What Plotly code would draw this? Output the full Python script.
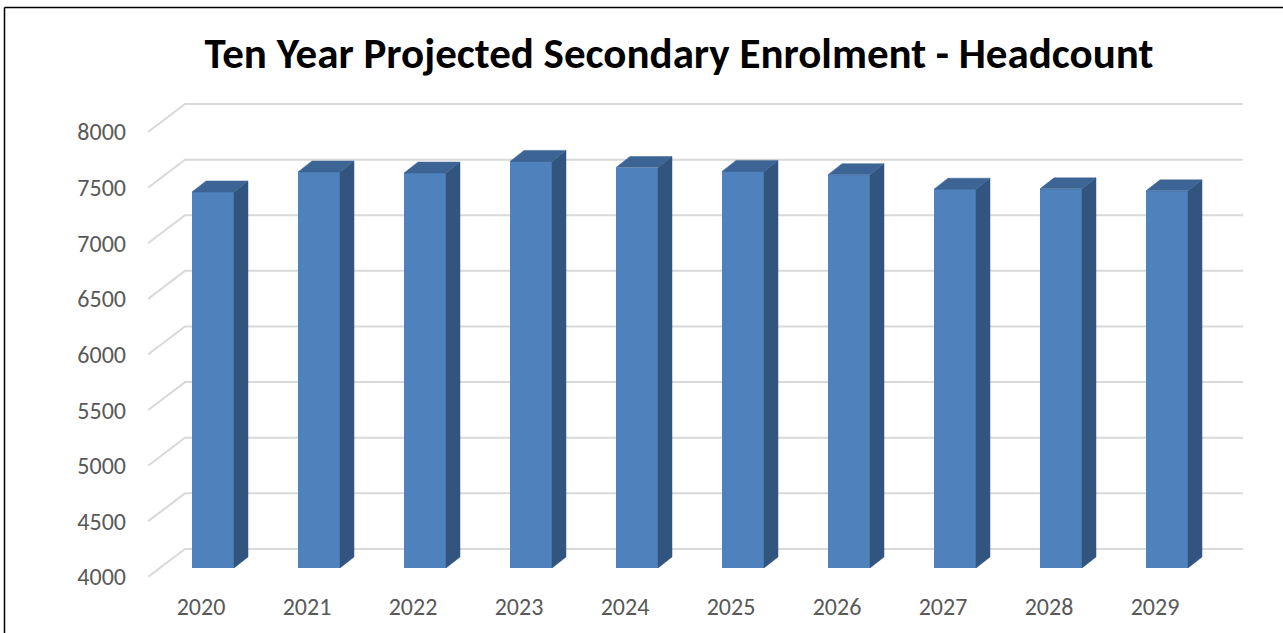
import plotly.graph_objects as go

# ---------------- data ----------------
years = ["2020", "2021", "2022", "2023", "2024", "2025", "2026", "2027", "2028", "2029"]
headcount = [7380, 7560, 7550, 7655, 7600, 7565, 7535, 7405, 7408, 7390]
y_ticks = [4000, 4500, 5000, 5500, 6000, 6500, 7000, 7500, 8000]
title_text = "Ten Year Projected Secondary Enrolment - Headcount"

# ---------------- layout constants (pixels) ----------------
W, H = 1283, 633
L, R, T, B = 148, 1243, 90, 577          # plot area
PX_PER_CAT = 106.0                        # px per category step
X0_PX = 213.0                             # front-face centre of first bar
PX_PER_UNIT = 0.11125                     # px per enrolment unit
Y_MIN = 4000

x_lo = (L - X0_PX) / PX_PER_CAT
x_hi = (R - X0_PX) / PX_PER_CAT
y_lo = Y_MIN
y_hi = Y_MIN + (B - T) / PX_PER_UNIT

# 3D depth offsets
wall_dx = 37 / PX_PER_CAT
wall_dy = 28 / PX_PER_UNIT
bar_plane_dy = 9 / PX_PER_UNIT
bar_half = 21 / PX_PER_CAT
bar_dx = 14 / PX_PER_CAT
bar_dy = 11 / PX_PER_UNIT
label_shift = 12 / PX_PER_CAT

idx = list(range(len(years)))

FRONT = "#4F81BD"
TOP = "#3C6494"
SIDE = "#32557F"
GRID = "#D9D9D9"
TXT = "#595959"
FONT = "Carlito, Lato, 'Open Sans', sans-serif"

fig = go.Figure()

# ---- gridlines (front diagonal + back wall), below the bars ----
for g in y_ticks:
    path = (f"M {x_lo},{g} L {x_lo + wall_dx},{g + wall_dy} "
            f"L {x_hi},{g + wall_dy}")
    fig.add_shape(type="path", xref="x", yref="y", path=path,
                  line=dict(color=GRID, width=2), layer="below")

# ---- bars: front faces ----
fig.add_trace(go.Bar(
    x=idx, y=[v - Y_MIN for v in headcount], base=Y_MIN + bar_plane_dy,
    width=2 * bar_half, marker=dict(color=FRONT, line=dict(width=0)),
    customdata=headcount, hovertemplate="%{customdata}<extra></extra>",
    showlegend=False))

# ---- bars: side and top faces ----
for i, v in zip(idx, headcount):
    base = Y_MIN + bar_plane_dy
    top = v + bar_plane_dy
    xr = i + bar_half
    xl = i - bar_half
    fig.add_trace(go.Scatter(
        x=[xr, xr, xr + bar_dx, xr + bar_dx, xr],
        y=[base, top, top + bar_dy, base + bar_dy, base],
        mode="lines", fill="toself", fillcolor=SIDE,
        line=dict(color=SIDE, width=0.5),
        hoverinfo="skip", showlegend=False))
    fig.add_trace(go.Scatter(
        x=[xl, xr, xr + bar_dx, xl + bar_dx, xl],
        y=[top, top, top + bar_dy, top + bar_dy, top],
        mode="lines", fill="toself", fillcolor=TOP,
        line=dict(color=TOP, width=0.5),
        hoverinfo="skip", showlegend=False))

# ---- frame lines (top & left) ----
def px2paper_x(px):
    return (px - L) / (R - L)

def px2paper_y(py):
    return (B - py) / (B - T)

fig.add_shape(type="line", xref="paper", yref="paper",
              x0=px2paper_x(4.5), x1=px2paper_x(W + 5),
              y0=px2paper_y(7.5), y1=px2paper_y(7.5),
              line=dict(color="#000000", width=1.5))
fig.add_shape(type="line", xref="paper", yref="paper",
              x0=px2paper_x(4.5), x1=px2paper_x(4.5),
              y0=px2paper_y(7.5), y1=px2paper_y(H + 5),
              line=dict(color="#000000", width=1.5))

fig.update_layout(
    width=W, height=H,
    margin=dict(l=L, r=W - R, t=T, b=H - B, pad=0, autoexpand=False),
    paper_bgcolor="white", plot_bgcolor="white",
    title=dict(text=title_text, x=679 / W, xanchor="center",
               y=1 - 53 / H, yanchor="middle",
               font=dict(family=FONT, size=43, color="#000000", weight="bold")),
    xaxis=dict(range=[x_lo, x_hi], showgrid=False, zeroline=False, showline=False,
               automargin=False,
               tickmode="array", tickvals=[i - label_shift for i in idx],
               ticktext=years, ticks="", ticklabelstandoff=13,
               tickfont=dict(family=FONT, size=24, color=TXT), fixedrange=True),
    yaxis=dict(range=[y_lo, y_hi], showgrid=False, zeroline=False, showline=False,
               automargin=False,
               tickmode="array", tickvals=y_ticks, ticktext=[str(t) for t in y_ticks],
               ticks="", ticklabelstandoff=21,
               tickfont=dict(family=FONT, size=24, color=TXT), fixedrange=True),
    bargap=0,
)

fig.write_html("out.html", config={"displayModeBar": False},
               post_script="document.body.style.margin='0';document.body.style.overflow='hidden';")
